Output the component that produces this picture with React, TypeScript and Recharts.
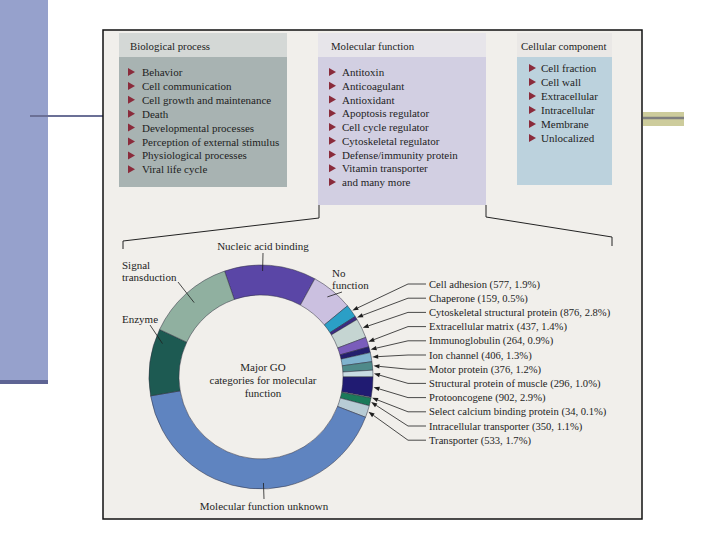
import React from 'react';
import { PieChart, Pie, Cell } from 'recharts';

// GO kategorije - tri kutije na vrhu
const bioProcess = [
  'Behavior',
  'Cell communication',
  'Cell growth and maintenance',
  'Death',
  'Developmental processes',
  'Perception of external stimulus',
  'Physiological processes',
  'Viral life cycle',
];
const molFunction = [
  'Antitoxin',
  'Anticoagulant',
  'Antioxidant',
  'Apoptosis regulator',
  'Cell cycle regulator',
  'Cytoskeletal regulator',
  'Defense/immunity protein',
  'Vitamin transporter',
  'and many more',
];
const cellComponent = ['Cell fraction', 'Cell wall', 'Extracellular', 'Intracellular', 'Membrane', 'Unlocalized'];

// prsten - redosled u smeru kazaljke od "Nucleic acid binding"
const categories = [
  'Nucleic acid binding',
  'No function',
  'Cell adhesion',
  'Chaperone',
  'Cytoskeletal structural protein',
  'Extracellular matrix',
  'Immunoglobulin',
  'Ion channel',
  'Motor protein',
  'Structural protein of muscle',
  'Protooncogene',
  'Select calcium binding protein',
  'Intracellular transporter',
  'Transporter',
  'Molecular function unknown',
  'Enzyme',
  'Signal transduction',
];
const counts = [4110, 1880, 577, 159, 876, 437, 264, 406, 376, 296, 902, 34, 350, 533, 12850, 3000, 3950];
const percents = ['', '', '1.9%', '0.5%', '2.8%', '1.4%', '0.9%', '1.3%', '1.2%', '1.0%', '2.9%', '0.1%', '1.1%', '1.7%', '', '', ''];

const sliceColors = [
  '#5a46a6', '#cbc0e0', '#2b9fc6', '#3b2b82', '#c5d5d2', '#7a5dbb', '#241e6e', '#80b3cf', '#4f8a8a',
  '#c9dce2', '#201b72', '#e9f0ee', '#1b7a5a', '#b8ccd5', '#5f84c0', '#1d5a52', '#90b0a0',
];

const pieData = categories.map((name, i) => ({ name, value: counts[i], pct: percents[i] }));

const RADIAN = Math.PI / 180;
const FONT = '"Liberation Serif", "DejaVu Serif", serif';
const INK = '#1e1e1e';

// raspored natpisa za velike isečke
const bigLabels: Record<number, { lines: string[]; x: number; y: number; anchor: string; lx: number; ly: number; r: number; off: number }> = {
  0: { lines: ['Nucleic acid binding'], x: 263, y: 246, anchor: 'middle', lx: 263, ly: 253, r: 106, off: 4 },
  1: { lines: ['No', 'function'], x: 332, y: 273, anchor: 'start', lx: 342, ly: 292, r: 104, off: 0 },
  14: { lines: ['Molecular function unknown'], x: 264, y: 506, anchor: 'middle', lx: 264, ly: 499, r: 106, off: 7 },
  15: { lines: ['Enzyme'], x: 122, y: 319, anchor: 'start', lx: 150, ly: 325, r: 104, off: -11 },
  16: { lines: ['Signal', 'transduction'], x: 122, y: 265, anchor: 'start', lx: 178, ly: 282, r: 100, off: 0 },
};

const polar = (cx: number, cy: number, r: number, a: number) => ({
  x: cx + r * Math.cos(-a * RADIAN),
  y: cy + r * Math.sin(-a * RADIAN),
});

function renderLabel(props: any) {
  const { cx, cy, midAngle, outerRadius, index } = props;
  const entry = pieData[index];
  const big = bigLabels[index];
  if (big) {
    const end = polar(cx, cy, big.r, midAngle + big.off);
    return (
      <g key={`lbl-${index}`}>
        <line x1={big.lx} y1={big.ly} x2={end.x} y2={end.y} stroke={INK} strokeWidth={0.8} />
        {big.lines.map((t, k) => (
          <text key={k} x={big.x} y={big.y + k * 12} textAnchor={big.anchor} dominantBaseline="central"
            fontFamily={FONT} fontSize={11} fill={INK}>{t}</text>
        ))}
        {index === 0 && (
          <g>
            {['Major GO', 'categories for molecular', 'function'].map((t, k) => (
              <text key={k} x={cx + 2} y={cy - 10 + k * 13} textAnchor="middle" dominantBaseline="central"
                fontFamily={FONT} fontSize={11} fill={INK}>{t}</text>
            ))}
          </g>
        )}
      </g>
    );
  }
  // mali isečci - natpisi desno sa strelicama
  const j = index - 2;
  const ty = 284 + j * 14.2;
  const tip = polar(cx, cy, outerRadius + 1, midAngle);
  const kx = 408;
  const dx = tip.x - kx;
  const dy = tip.y - ty;
  const len = Math.sqrt(dx * dx + dy * dy);
  const ux = dx / len;
  const uy = dy / len;
  const bx = tip.x - ux * 6;
  const by = tip.y - uy * 6;
  const head = `${tip.x},${tip.y} ${bx - uy * 2.2},${by + ux * 2.2} ${bx + uy * 2.2},${by - ux * 2.2}`;
  return (
    <g key={`lbl-${index}`}>
      <polyline points={`${426},${ty} ${kx},${ty} ${bx},${by}`} fill="none" stroke={INK} strokeWidth={0.8} />
      <polygon points={head} fill={INK} />
      <text x={429} y={ty} dominantBaseline="central" fontFamily={FONT} fontSize={10.6} fill={INK}>
        {`${entry.name} (${entry.value}, ${entry.pct})`}
      </text>
    </g>
  );
}

function Bullet({ x, y }: { x: number; y: number }) {
  return <polygon points={`${x},${y - 4} ${x + 7},${y} ${x},${y + 4}`} fill="#8a2b3b" />;
}

type BoxProps = {
  left: number; width: number; bodyBottom: number; headerBg: string; bodyBg: string;
  title: string; titleX: number; items: string[]; firstY: number; step: number; bulletX: number; textX: number;
};

function GoBox(p: BoxProps) {
  return (
    <g>
      <rect x={p.left} y={33} width={p.width} height={24} fill={p.headerBg} />
      <rect x={p.left} y={57} width={p.width} height={p.bodyBottom - 57} fill={p.bodyBg} />
      <text x={p.titleX} y={46} dominantBaseline="central" fontFamily={FONT} fontSize={10.8} fill={INK}>{p.title}</text>
      {p.items.map((t, i) => (
        <g key={t}>
          <Bullet x={p.bulletX} y={p.firstY + i * p.step} />
          <text x={p.textX} y={p.firstY + i * p.step} dominantBaseline="central" fontFamily={FONT} fontSize={11} fill={INK}>{t}</text>
        </g>
      ))}
    </g>
  );
}

export default function App() {
  return (
    <div style={{ position: 'absolute', left: 0, top: 0, width: 720, height: 540, background: '#fff' }}>
      <svg width={720} height={540} style={{ position: 'absolute', left: 0, top: 0 }}>
        {/* slajd */}
        <rect x={0} y={0} width={48} height={380} fill="#96a1cc" />
        <rect x={0} y={380} width={48} height={4} fill="#5e6494" />
        <line x1={30} y1={116} x2={103} y2={116} stroke="#6b7096" strokeWidth={2} />
        <rect x={643} y={112} width={41} height={14} fill="#cdcc9c" />
        <line x1={643} y1={118} x2={684} y2={118} stroke="#7f7f7f" strokeWidth={2.5} />
        {/* okvir slike */}
        <rect x={103} y={30} width={539} height={489} fill="#f1efeb" stroke="#111" strokeWidth={1.5} />
        <GoBox left={119} width={168} bodyBottom={187} headerBg="#d4d8d6" bodyBg="#a8b3b2" title="Biological process"
          titleX={130} items={bioProcess} firstY={72} step={13.9} bulletX={128} textX={142} />
        <GoBox left={318} width={168} bodyBottom={205} headerBg="#e7e5ea" bodyBg="#d2cfe2" title="Molecular function"
          titleX={331} items={molFunction} firstY={72} step={13.75} bulletX={329} textX={342} />
        <GoBox left={517} width={95} bodyBottom={185} headerBg="#eae8e6" bodyBg="#bcd2dd" title="Cellular component"
          titleX={521} items={cellComponent} firstY={68} step={14} bulletX={529} textX={541} />
        {/* zagrade ka prstenu */}
        <polyline points="319,205 319,218 123,241 123,249" fill="none" stroke="#222" strokeWidth={1} />
        <polyline points="486,205 486,217 612,237 612,246" fill="none" stroke="#222" strokeWidth={1} />
      </svg>
      <div style={{ position: 'absolute', left: 0, top: 0 }}>
        <PieChart width={720} height={540} margin={{ top: 0, right: 0, bottom: 0, left: 0 }}>
          <Pie
            data={pieData}
            dataKey="value"
            nameKey="name"
            cx={261}
            cy={377}
            innerRadius={82}
            outerRadius={112}
            startAngle={109}
            endAngle={-251}
            stroke="#2c2c3c"
            strokeWidth={0.5}
            label={renderLabel}
            labelLine={false}
            isAnimationActive={false}
          >
            {pieData.map((entry, index) => (
              <Cell key={`cell-${index}`} fill={sliceColors[index]} />
            ))}
          </Pie>
        </PieChart>
      </div>
    </div>
  );
}
